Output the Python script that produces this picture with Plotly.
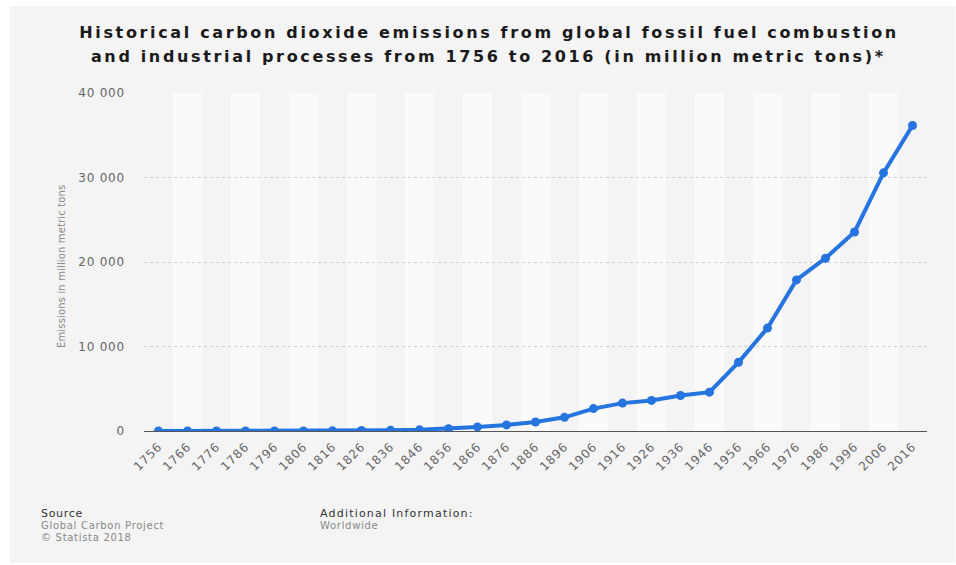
import plotly.graph_objects as go

years = [str(y) for y in range(1756, 2017, 10)]
emissions = [3, 3, 4, 4, 5, 10, 15, 60, 90, 140, 260, 480, 720, 1060, 1620,
             2650, 3300, 3620, 4200, 4600, 8130, 12180, 17880, 20450, 23550,
             30550, 36150]
y_ticks = [0, 10000, 20000, 30000, 40000]
y_tick_labels = ["0", "10 000", "20 000", "30 000", "40 000"]

W, H = 956, 565
L, R, T, B = 143.5, 927.5, 93, 431
pw, ph = R - L, B - T

def px(xp):
    return (xp - L) / pw

def py(yp):
    return (B - yp) / ph

BG = "#f4f4f4"
STRIPE = "#fafafa"
FONT = "DejaVu Sans"

fig = go.Figure()
fig.add_trace(go.Scatter(
    x=years, y=emissions, mode="lines+markers",
    line=dict(color="#2574e0", width=4),
    marker=dict(color="#2574e0", size=9),
    hoverinfo="x+y", showlegend=False,
))

shapes = [dict(type="rect", xref="paper", yref="paper",
               x0=px(9), x1=px(956), y0=py(563), y1=py(6),
               fillcolor=BG, line=dict(width=0), layer="below")]
for i, yr in enumerate(years):
    if i % 2 == 1:
        shapes.append(dict(type="rect", xref="x", yref="paper",
                           x0=i - 0.5, x1=i + 0.5, y0=0, y1=1,
                           fillcolor=STRIPE, line=dict(width=0), layer="below"))

def ann(text, x, y, size, color, anchor="left", **kw):
    return dict(text=text, x=px(x), y=py(y), xref="paper", yref="paper",
                showarrow=False, xanchor=anchor, yanchor="middle", align=anchor,
                font=dict(family=FONT, size=size, color=color), **kw)

annotations = [
    ann("<b>Historical carbon dioxide emissions from global fossil fuel combustion</b>",
        488.5, 32, 16, "#1a1a1a", "center"),
    ann("<b>and industrial processes from 1756 to 2016 (in million metric tons)*</b>",
        488.5, 56.5, 16, "#1a1a1a", "center"),
    ann("Emissions in million metric tons", 60, 266, 10, "#888888", "center",
        textangle=-90),
    ann("Source", 38, 513, 11, "#333333"),
    ann("Global Carbon Project", 38, 525.5, 10, "#888888"),
    ann("© Statista 2018", 38, 537, 10, "#888888"),
    ann("Additional Information:", 318, 513, 11, "#333333"),
    ann("Worldwide", 318, 525.5, 10, "#888888"),
]

fig.update_layout(
    width=W, height=H,
    margin=dict(l=L, r=W - R, t=T, b=H - B, pad=0),
    paper_bgcolor="white", plot_bgcolor=BG,
    shapes=shapes, annotations=annotations,
    xaxis=dict(type="category", tickangle=-45, showgrid=False, showline=True,
               linecolor="#555555", linewidth=1, ticks="",
               range=[-0.5, len(years) - 0.5], ticklabelstandoff=3,
               tickfont=dict(family=FONT, size=12, color="#666666")),
    yaxis=dict(range=[0, 40000], tickvals=y_ticks, ticktext=y_tick_labels,
               showgrid=True, gridcolor="#cfcfcf", griddash="dot", gridwidth=1,
               zeroline=False, showline=False, ticks="",
               ticklabelstandoff=18,
               tickfont=dict(family=FONT, size=12, color="#666666")),
)

post = """
var gd = document.getElementById('{plot_id}');
gd.querySelectorAll('text.annotation-text').forEach(function(t){
  var s = t.textContent;
  if (s.indexOf('Historical') === 0 || s.indexOf('and industrial') === 0) {
    t.style.letterSpacing = '2.65px';
  } else if (s.indexOf('Emissions') === 0) {
    t.style.letterSpacing = '0.15px';
  } else if (s.indexOf('Additional') === 0) {
    t.style.letterSpacing = '1.2px';
  } else {
    t.style.letterSpacing = '0.7px';
  }
});
gd.querySelectorAll('.xtick text, .ytick text').forEach(function(t){
  t.style.letterSpacing = '0.8px';
});
"""

fig.write_html("out.html", post_script=post)
